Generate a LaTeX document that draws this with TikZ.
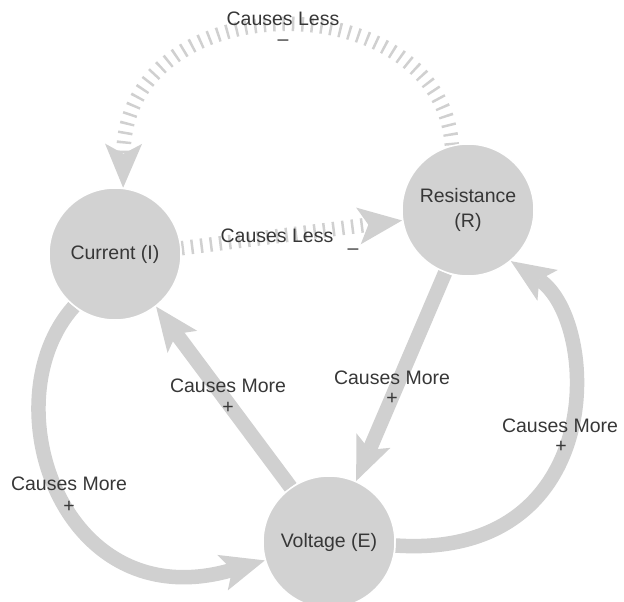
\documentclass[tikz,border=0pt]{standalone}
\usepackage{fontspec}
\setmainfont{Liberation Sans}
\usetikzlibrary{arrows.meta,backgrounds}
\definecolor{cgray}{RGB}{210,210,210}
\definecolor{bgray}{RGB}{208,208,208}
\definecolor{tgray}{RGB}{55,55,55}
\newcommand\lblfont{\fontsize{19.5}{25}\selectfont}
\tikzset{
  circ/.style={circle, fill=cgray, draw=white, line width=1.5pt, minimum size=132pt,
    inner sep=0pt, text=tgray, font=\lblfont, align=center},
  band/.style={draw=bgray, line width=14.5pt,
    -{Stealth[length=44pt,width=37pt,inset=10pt,line width=0pt 0]}},
  dband/.style={band, dash pattern=on 2.5pt off 7pt},
  lbl/.style={text=tgray, font=\lblfont, inner sep=0pt, anchor=base}
}
\begin{document}
\begin{tikzpicture}[x=1pt,y=-1pt]
\useasboundingbox (0,0) rectangle (624,602);
\node[circ] (cur) at (115,254) {Current (I)};
\node[circ] (res) at (468,210) {Resistance\\(R)};
\node[circ] (volt) at (329,542) {Voltage (E)};
\begin{pgfonlayer}{background}
\draw[dband] (res.104) .. controls (440,-18) and (125,-18) .. (cur.83);
\draw[dband] (cur.5) -- (res.189);
\draw[band] (volt.125) -- (cur.-52);
\draw[band] (res.250) -- (volt.66);
\draw[band] (cur.232) .. controls (-10,400) and (60,620) .. (volt.196);
\draw[band] (volt.-3) .. controls (610,560) and (600,320) .. (res.-50);
\end{pgfonlayer}
\node[lbl] (l1) at (283,26) {Causes Less};
\node[lbl] (s1) at (283,46) {–};
\node[lbl] (l2) at (277,242) {Causes Less};
\node[lbl] (s2) at (353,254) {–};
\node[lbl] (l3) at (228,392) {Causes More};
\node[lbl] (s3) at (228,413.5) {+};
\node[lbl] (l4) at (392,384) {Causes More};
\node[lbl] (s4) at (392,404.5) {+};
\node[lbl] (l5) at (560,432) {Causes More};
\node[lbl] (s5) at (561,452) {+};
\node[lbl] (l6) at (69,490) {Causes More};
\node[lbl] (s6) at (69,512.5) {+};
\end{tikzpicture}
\end{document}
